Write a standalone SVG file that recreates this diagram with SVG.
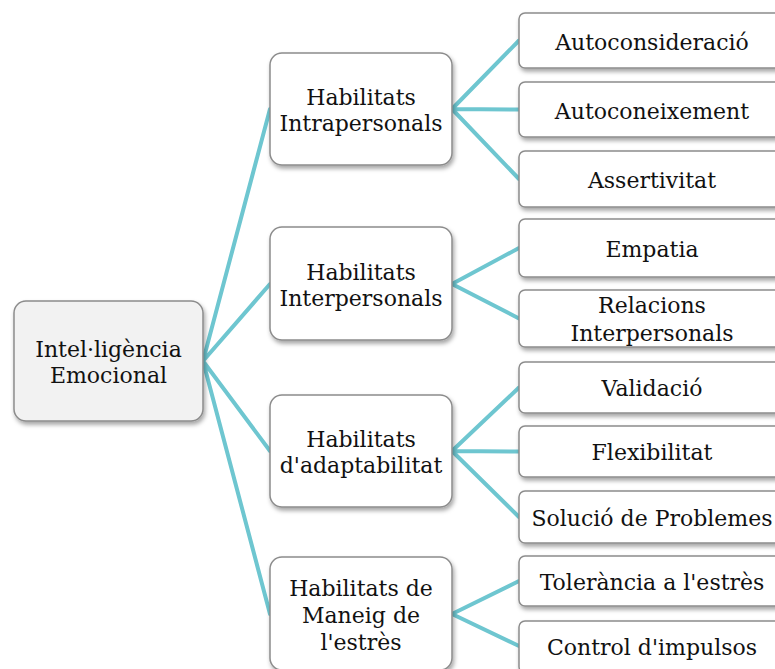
<svg xmlns="http://www.w3.org/2000/svg" width="775" height="669" viewBox="0 0 775 669">
<defs>
<filter id="sh" x="-10%" y="-10%" width="130%" height="140%">
<feDropShadow dx="1.5" dy="3" stdDeviation="2" flood-color="#000" flood-opacity="0.35"/>
</filter>
<style>
.box{fill:#fff;stroke:#8c8c8c;stroke-width:1.5;filter:url(#sh)}
.root{fill:#f2f2f2}
.t{font-family:"DejaVu Serif","Liberation Serif",serif;font-size:22px;fill:#111;text-anchor:middle}
.c{stroke:#6ec6d0;stroke-width:4;fill:none;stroke-linecap:round}
</style>
</defs>
<rect width="775" height="669" fill="#fff"/>
<g id="connectors">
<path class="c" d="M203 361 L270 109 M203 361 L270 284 M203 361 L270 451 M203 361 L270 614"/>
<path class="c" d="M452 109 L519 40.5 M452 109 L519 109.5 M452 109 L519 179"/>
<path class="c" d="M452 284 L519 248 M452 284 L519 318.5"/>
<path class="c" d="M452 451 L519 387.5 M452 451 L519 451.5 M452 451 L519 517"/>
<path class="c" d="M452 614 L519 581 M452 614 L519 646"/>
</g>
<g id="root">
<rect class="box root" x="14" y="301" width="189" height="120" rx="12"/>
<text class="t" x="108.5" y="357">Intel·ligència</text>
<text class="t" x="108.5" y="383">Emocional</text>
</g>
<g id="intra">
<rect class="box" x="270" y="53" width="182" height="112" rx="12"/>
<text class="t" x="361" y="105">Habilitats</text>
<text class="t" x="361" y="131">Intrapersonals</text>
</g>
<g id="inter">
<rect class="box" x="270" y="227" width="182" height="113" rx="12"/>
<text class="t" x="361" y="280">Habilitats</text>
<text class="t" x="361" y="306">Interpersonals</text>
</g>
<g id="adapt">
<rect class="box" x="270" y="395" width="182" height="112" rx="12"/>
<text class="t" x="361" y="447">Habilitats</text>
<text class="t" x="361" y="473">d'adaptabilitat</text>
</g>
<g id="estres">
<rect class="box" x="270" y="557" width="182" height="113" rx="12"/>
<text class="t" x="361" y="596">Habilitats de</text>
<text class="t" x="361" y="623">Maneig de</text>
<text class="t" x="361" y="650">l'estrès</text>
</g>
<g id="autoconsideracio">
<rect class="box" x="519" y="13" width="266" height="55" rx="6"/>
<text class="t" x="652" y="50">Autoconsideració</text>
</g>
<g id="autoconeixement">
<rect class="box" x="519" y="82" width="266" height="55" rx="6"/>
<text class="t" x="652" y="119">Autoconeixement</text>
</g>
<g id="assertivitat">
<rect class="box" x="519" y="151" width="266" height="56" rx="6"/>
<text class="t" x="652" y="188">Assertivitat</text>
</g>
<g id="empatia">
<rect class="box" x="519" y="219" width="266" height="58" rx="6"/>
<text class="t" x="652" y="257">Empatia</text>
</g>
<g id="relacions">
<rect class="box" x="519" y="290" width="266" height="57" rx="6"/>
<text class="t" x="652" y="313">Relacions</text>
<text class="t" x="652" y="341">Interpersonals</text>
</g>
<g id="validacio">
<rect class="box" x="519" y="362" width="266" height="51" rx="6"/>
<text class="t" x="652" y="396">Validació</text>
</g>
<g id="flexibilitat">
<rect class="box" x="519" y="426" width="266" height="51" rx="6"/>
<text class="t" x="652" y="460">Flexibilitat</text>
</g>
<g id="solucio">
<rect class="box" x="519" y="491" width="266" height="52" rx="6"/>
<text class="t" x="652" y="526">Solució de Problemes</text>
</g>
<g id="tolerancia">
<rect class="box" x="519" y="556" width="266" height="50" rx="6"/>
<text class="t" x="652" y="590">Tolerància a l'estrès</text>
</g>
<g id="control">
<rect class="box" x="519" y="621" width="266" height="52" rx="6"/>
<text class="t" x="652" y="655">Control d'impulsos</text>
</g>
</svg>
